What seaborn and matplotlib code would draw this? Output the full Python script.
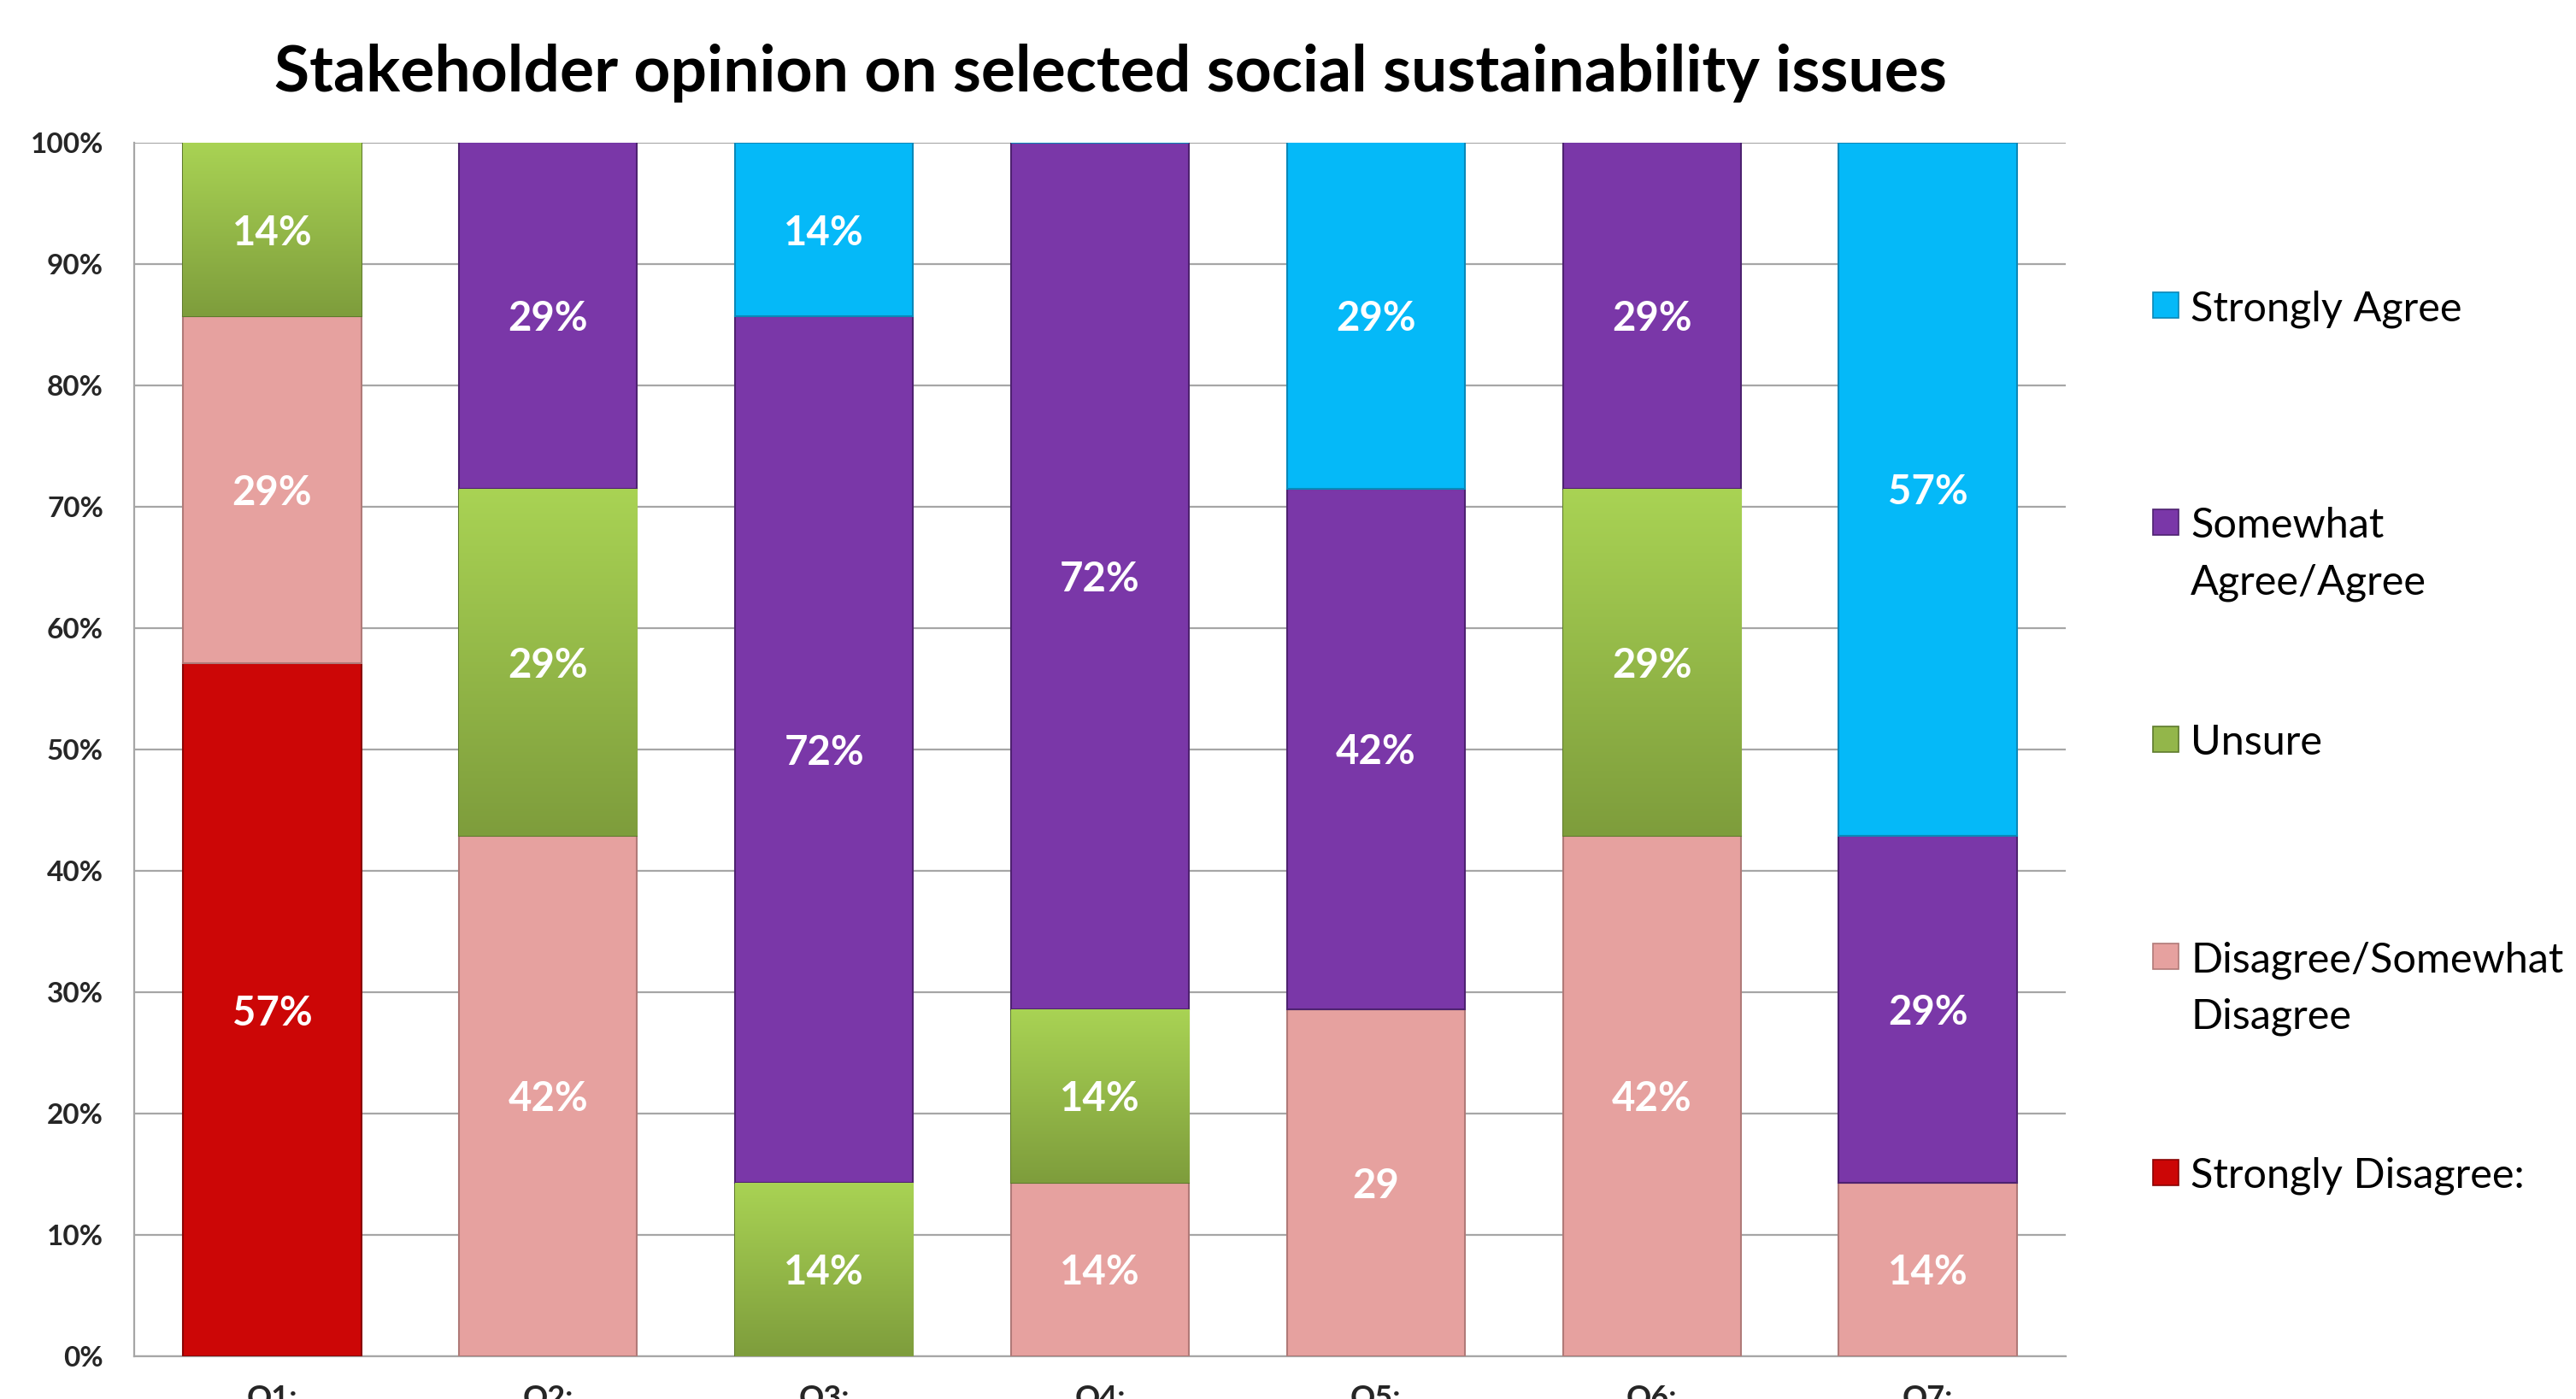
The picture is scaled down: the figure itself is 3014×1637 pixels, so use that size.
import matplotlib
matplotlib.use("Agg")
import matplotlib.pyplot as plt
from matplotlib.patches import Rectangle
from matplotlib.colors import LinearSegmentedColormap
import seaborn as sns
import numpy as np

# ---- data (bar heights, % of respondents) ----
categories = ["Q1:", "Q2:", "Q3:", "Q4:", "Q5:", "Q6:", "Q7:"]
series_names = ["Strongly Disagree:", "Disagree/Somewhat\nDisagree", "Unsure",
                "Somewhat\nAgree/Agree", "Strongly Agree"]
strongly_disagree = [57.1, 0, 0, 0, 0, 0, 0]
disagree = [28.6, 42.9, 0, 14.3, 28.6, 42.9, 14.3]
unsure = [14.3, 28.6, 14.3, 14.3, 0, 28.6, 0]
somewhat_agree = [0, 28.6, 71.4, 71.4, 42.9, 28.6, 28.6]
strongly_agree = [0, 0, 14.3, 0, 28.6, 0, 57.1]
# data labels as printed on the chart
labels_strongly_disagree = ["57%", "", "", "", "", "", ""]
labels_disagree = ["29%", "42%", "", "14%", "29", "42%", "14%"]
labels_unsure = ["14%", "29%", "14%", "14%", "", "29%", ""]
labels_somewhat_agree = ["", "29%", "72%", "72%", "42%", "29%", "29%"]
labels_strongly_agree = ["", "", "14%", "", "29%", "", "57%"]

colors = ["#CC0606", "#E6A19F", "#93B64A", "#7A37A8", "#05B9F8"]
edge_colors = ["#8A0404", "#B07A78", "#5E7A2C", "#4E2270", "#0A88B8"]

sns.set_theme(style="white")
plt.rcParams['font.family'] = ['Lato', 'DejaVu Sans']

fig = plt.figure(figsize=(30.14, 16.37), dpi=100)
ax = fig.add_axes([157/3014, 50/1637, 2260/3014, 1420/1637])

all_series = [strongly_disagree, disagree, unsure, somewhat_agree, strongly_agree]
all_labels = [labels_strongly_disagree, labels_disagree, labels_unsure,
              labels_somewhat_agree, labels_strongly_agree]
green_cmap = LinearSegmentedColormap.from_list("g", ["#7E9D3C", "#A9D354"])

bottom = np.zeros(len(categories))
for si, (vals, labs, col, ec) in enumerate(zip(all_series, all_labels, colors, edge_colors)):
    vals = np.array(vals, dtype=float)
    sns.barplot(x=categories, y=vals, bottom=bottom, color=col, width=0.645,
                ax=ax, edgecolor=ec, linewidth=1.5, saturation=1, zorder=3,
                errorbar=None)
    cont = ax.containers[-1]
    if si == 2:
        # vertical gradient on the "Unsure" bars
        for p in cont.patches:
            if p.get_height() <= 0:
                continue
            x0, y0 = p.get_x(), p.get_y()
            w, h = p.get_width(), p.get_height()
            grad = np.linspace(0, 1, 256).reshape(-1, 1)
            im = ax.imshow(grad, cmap=green_cmap, origin="lower", aspect="auto",
                           extent=(x0, x0 + w, y0, y0 + h), zorder=3.5)
            im.set_clip_path(p)
    texts = ax.bar_label(cont, labels=labs, label_type="center", color="white",
                         fontsize=34, fontweight="bold", zorder=5)
    for t in texts:
        t.set_va("center_baseline")
    bottom = bottom + vals

ax.set_ylim(0, 100)
ax.set_xlim(-0.5, 6.5)
ax.set_yticks(np.arange(0, 101, 10))
ax.set_yticklabels([f"{t}%" for t in range(0, 101, 10)], fontsize=24, fontweight="bold")
ax.tick_params(axis="y", length=0, pad=26)
ax.tick_params(axis="x", length=0, pad=24, labelsize=26)
for lab in ax.get_xticklabels():
    lab.set_fontweight("bold")
ax.yaxis.grid(True, color="#A6A6A6", linewidth=1.6, zorder=0)
ax.set_axisbelow(True)
ax.set_xlabel("")
ax.set_ylabel("")
for side in ["top", "right"]:
    ax.spines[side].set_visible(False)
for side in ["left", "bottom"]:
    ax.spines[side].set_color("#A6A6A6")
    ax.spines[side].set_linewidth(1.6)

fig.text(1299/3014, 1 - 85/1637, "Stakeholder opinion on selected social sustainability issues",
         ha="center", va="center", fontsize=54, fontweight="bold", color="black")

# legend (top-down order as in original)
leg_y = [357, 611, 865, 1119, 1372]
line_gap = 66
order = [4, 3, 2, 1, 0]
for y, si in zip(leg_y, order):
    fig.patches.append(Rectangle((2519/3014, 1 - (y + 15)/1637), 30/3014, 30/1637,
                                 transform=fig.transFigure, facecolor=colors[si],
                                 edgecolor=edge_colors[si], linewidth=1.2))
    for li, line in enumerate(series_names[si].split("\n")):
        fig.text(2563/3014, 1 - (y + li * line_gap)/1637, line, ha="left",
                 va="center_baseline", fontsize=35, color="black")

fig.savefig("out.png", dpi=100, facecolor="white")
